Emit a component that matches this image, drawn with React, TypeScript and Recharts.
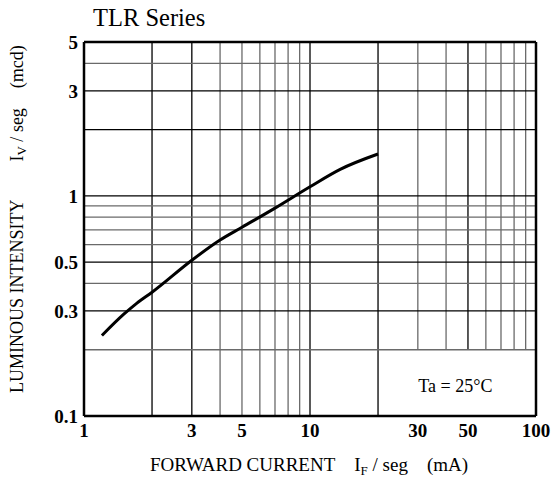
import React from "react";
import { LineChart, Line, XAxis, YAxis, ReferenceLine, ReferenceDot } from "recharts";

// forward current (mA) vs luminous intensity (mcd)
const currentMA = [1.2, 1.5, 1.71, 2, 3, 4, 5, 7, 10, 13.6, 20];
const intensity = [0.232, 0.29, 0.325, 0.365, 0.51, 0.63, 0.72, 0.88, 1.1, 1.32, 1.55];

const xTicks = [1, 3, 5, 10, 30, 50, 100];
const yTicks = [0.1, 0.3, 0.5, 1, 3, 5];

// full-height vertical grid lines, and short ones that stop at 0.2
const xGridFull = [2, 3, 4, 5, 6, 7, 8, 9, 10, 20];
const xGridShort = [30, 40, 50, 60, 70, 80, 90];
const yGrid = [0.2, 0.3, 0.4, 0.5, 0.6, 0.7, 0.8, 0.9, 1, 2, 3, 4];
const darkLines = [2, 10, 20, 50, 0.3, 0.5, 1, 3];

const data = currentMA.map((x, i) => ({ x, y: intensity[i] }));

const FONT = "'Liberation Serif', 'Times New Roman', serif";

const gridColor = (v: number) => (darkLines.includes(v) ? "#000" : "#6a6a6a");

function XLabel({ viewBox }: any) {
  const x = viewBox.x + 66;
  const y = viewBox.y + 55;
  return (
    <text x={x} y={y} fontFamily={FONT} fontSize={19} fill="#000">
      <tspan>FORWARD CURRENT</tspan>
      <tspan dx={19}>I</tspan>
      <tspan fontSize={13} dy={4}>F</tspan>
      <tspan dy={-4}> / seg</tspan>
      <tspan dx={19}>(mA)</tspan>
    </text>
  );
}

function YLabel({ viewBox }: any) {
  const x = 23;
  const y = viewBox.y + viewBox.height - 23;
  return (
    <text x={x} y={y} transform={`rotate(-90 ${x} ${y})`} fontFamily={FONT} fontSize={18} fill="#000">
      <tspan>LUMINOUS INTENSITY</tspan>
      <tspan dx={38}>I</tspan>
      <tspan fontSize={13} dy={3}>V</tspan>
      <tspan dy={-3}> / seg</tspan>
      <tspan dx={20}>(mcd)</tspan>
    </text>
  );
}

export default function App() {
  return (
    <div style={{ position: "absolute", left: 0, top: 0, width: 553, height: 481, background: "#fff" }}>
      <div
        style={{
          position: "absolute",
          left: 93,
          top: 6,
          fontFamily: FONT,
          fontSize: 24.5,
          lineHeight: "24.5px",
          color: "#000",
        }}
      >
        TLR Series
      </div>
      <LineChart width={553} height={481} data={data} margin={{ top: 42, right: 17, bottom: 35, left: 0 }}>
        <XAxis
          dataKey="x"
          type="number"
          scale="log"
          domain={[1, 100]}
          ticks={xTicks}
          allowDataOverflow
          height={30}
          axisLine={false}
          tickLine={false}
          tickSize={0}
          tickMargin={8}
          tick={{ fill: "#000", fontFamily: FONT, fontSize: 19, fontWeight: "bold" }}
          label={<XLabel />}
        />
        <YAxis
          dataKey="y"
          type="number"
          scale="log"
          domain={[0.1, 5]}
          ticks={yTicks}
          allowDataOverflow
          width={84}
          axisLine={false}
          tickLine={false}
          tickSize={0}
          tickMargin={6}
          tick={{ fill: "#000", fontFamily: FONT, fontSize: 19, fontWeight: "bold" }}
          label={<YLabel />}
        />
        {xGridFull.map((v) => (
          <ReferenceLine key={`vx${v}`} x={v} stroke={gridColor(v)} strokeWidth={1.3} />
        ))}
        {xGridShort.map((v) => (
          <ReferenceLine
            key={`sx${v}`}
            segment={[
              { x: v, y: 0.2 },
              { x: v, y: 5 },
            ]}
            stroke={gridColor(v)}
            strokeWidth={1.3}
          />
        ))}
        {yGrid.map((v) => (
          <ReferenceLine key={`hy${v}`} y={v} stroke={gridColor(v)} strokeWidth={1.3} />
        ))}
        <ReferenceLine x={1} stroke="#000" strokeWidth={2.5} />
        <ReferenceLine x={100} stroke="#000" strokeWidth={2.5} />
        <ReferenceLine y={0.1} stroke="#000" strokeWidth={2.5} />
        <ReferenceLine y={5} stroke="#000" strokeWidth={2.5} />
        <ReferenceDot
          x={44}
          y={0.137}
          r={0}
          stroke="none"
          label={{ value: "Ta = 25°C", fill: "#000", fontFamily: FONT, fontSize: 18 }}
        />
        <Line
          dataKey="y"
          type="monotone"
          stroke="#000"
          strokeWidth={3}
          dot={false}
          isAnimationActive={false}
        />
      </LineChart>
    </div>
  );
}
